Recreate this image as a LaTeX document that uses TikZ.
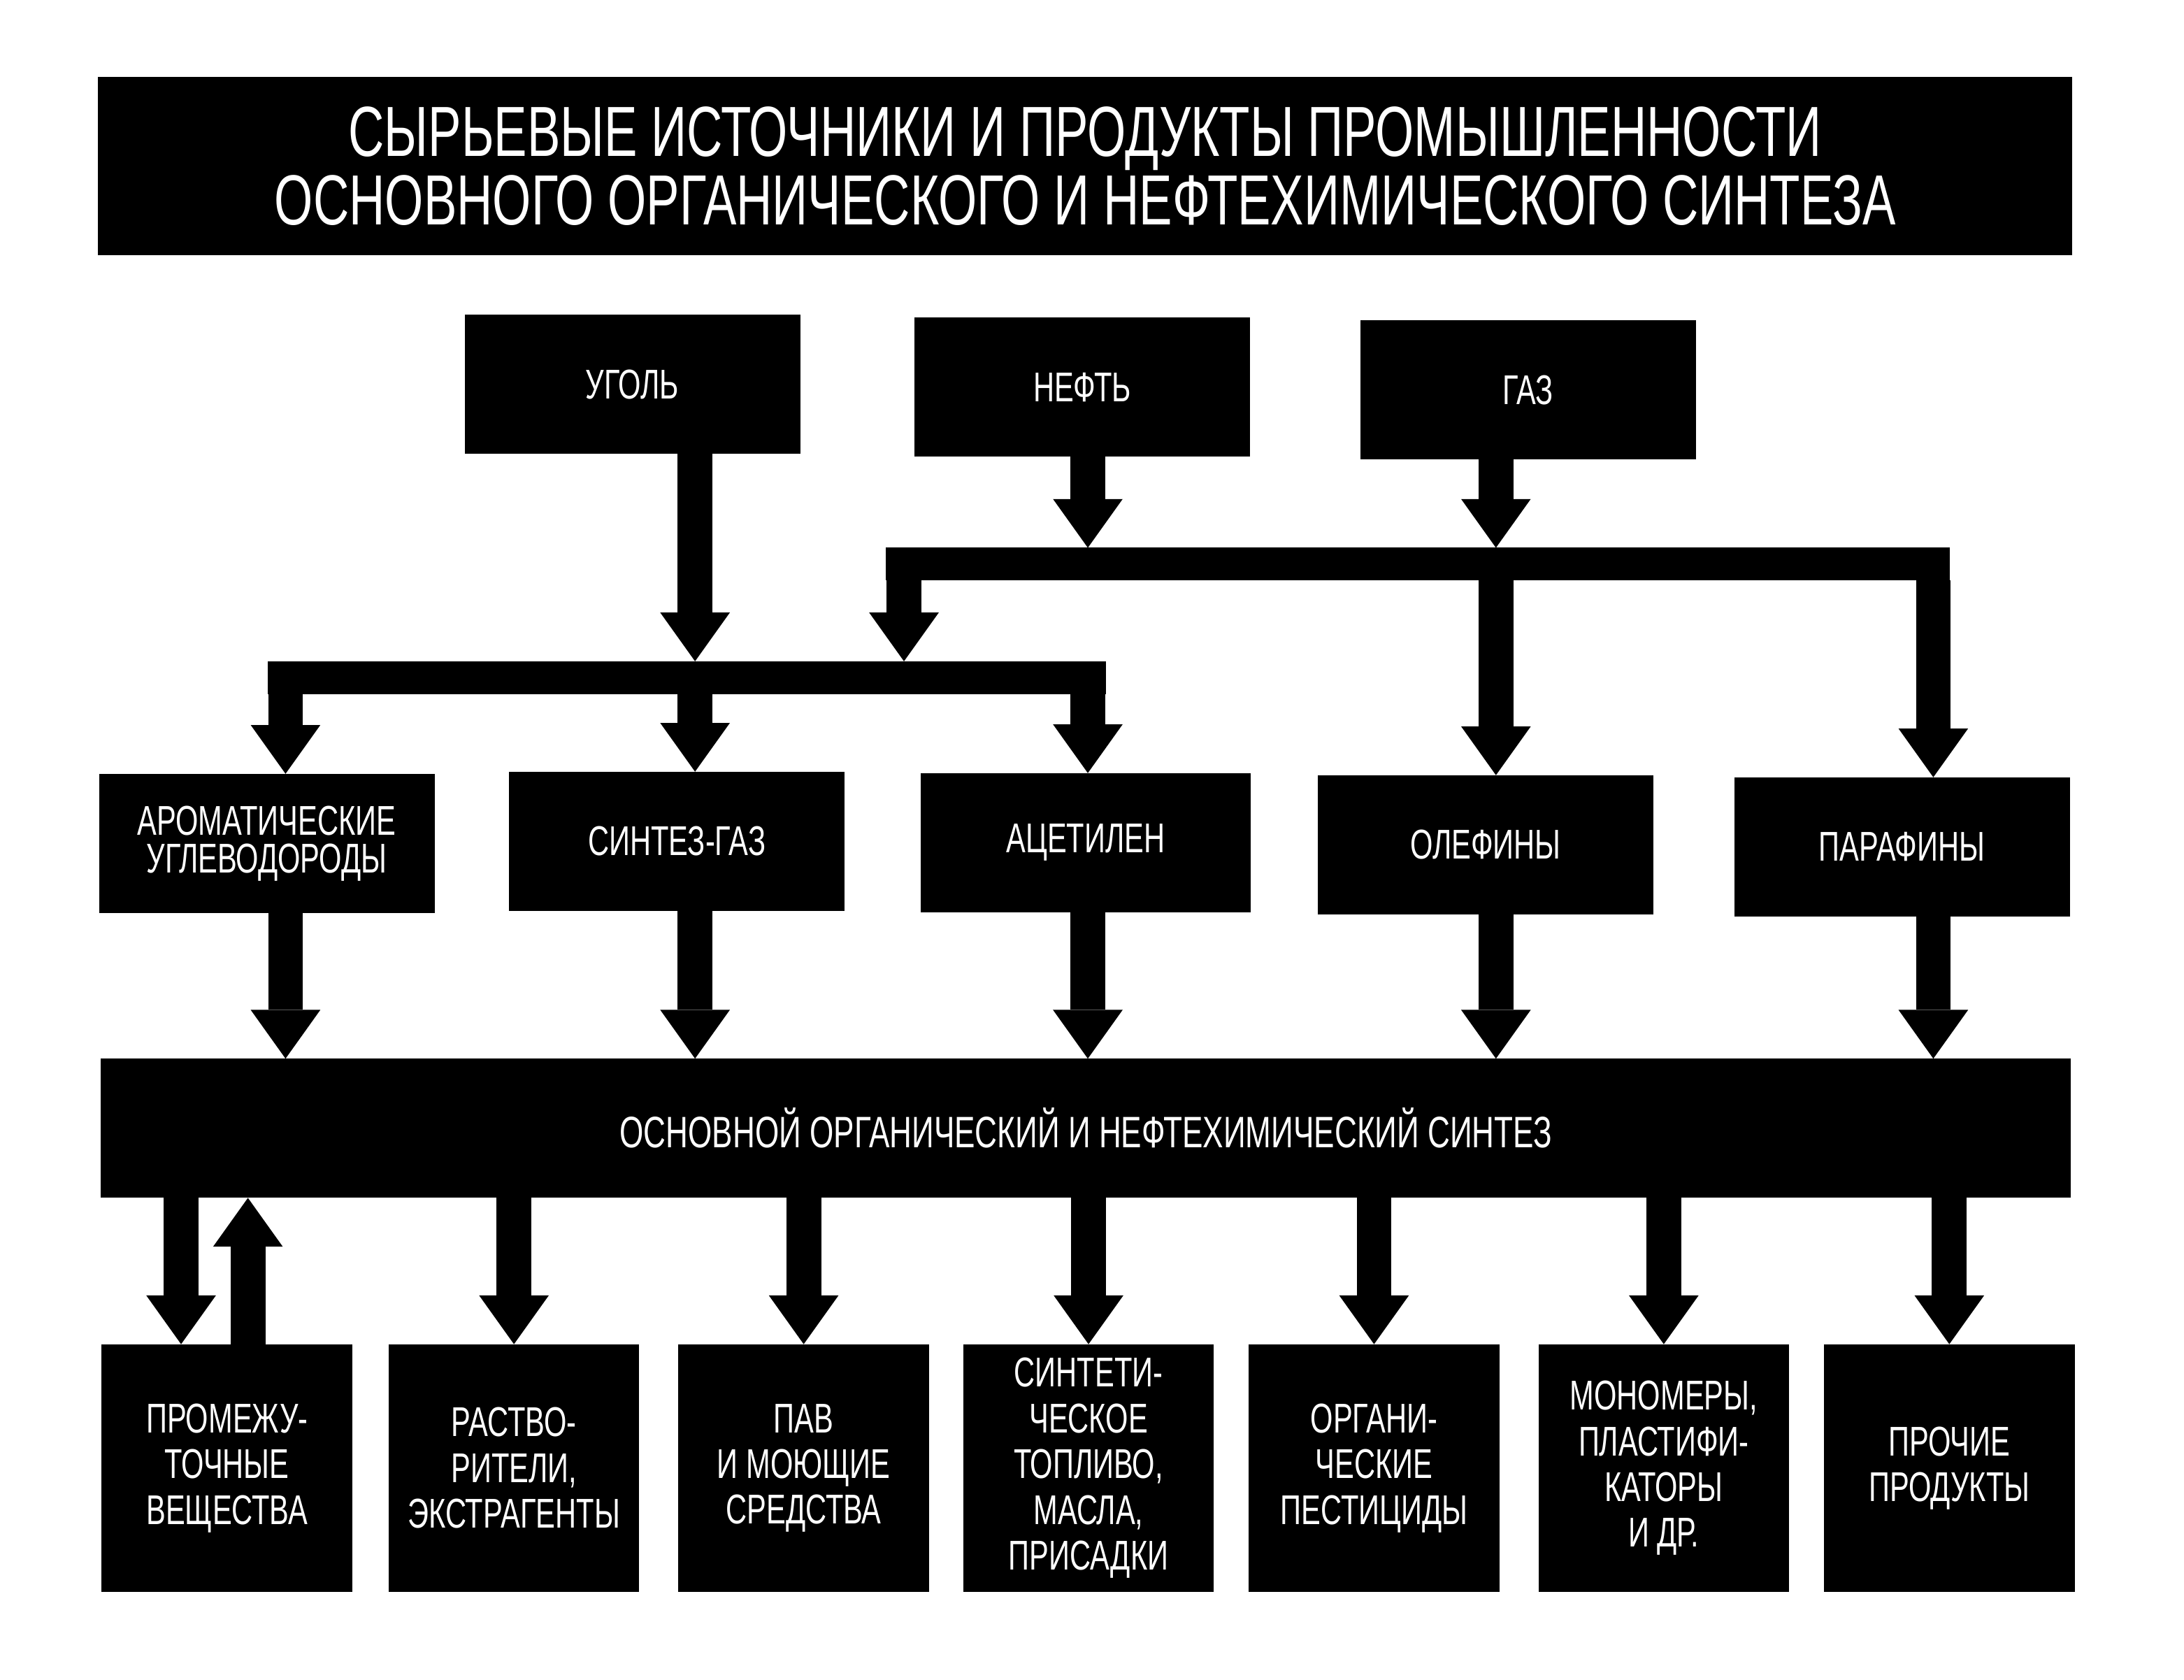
\documentclass[tikz,border=0pt]{standalone}
\usepackage{fontspec}
\setmainfont{Liberation Sans}[FakeStretch=0.7]
\usetikzlibrary{arrows.meta}

\begin{document}
\begin{tikzpicture}[x=0.02cm, y=-0.02cm,
    box/.style={fill=black, text=white, align=center, inner sep=0pt, outer sep=0pt,
      minimum width=4.82cm, minimum height=2cm, font=\fontsize{17}{15.5}\selectfont},
    prod/.style={box, minimum width=3.6cm, minimum height=3.56cm, font=\fontsize{17}{18.7}\selectfont},
    bar/.style={fill=black, inner sep=0pt, outer sep=0pt, minimum height=0.47cm},
    pipe/.style={line width=0.5cm, -{Triangle[width=1cm, length=0.7cm, line width=0pt]}}]
  \useasboundingbox (0,0) rectangle (1568,1206);

  \node[box, minimum width=28.36cm, minimum height=2.56cm, font=\fontsize{29}{28}\selectfont] (title) at (779,119)
    {СЫРЬЕВЫЕ ИСТОЧНИКИ И ПРОДУКТЫ ПРОМЫШЛЕННОСТИ\\ОСНОВНОГО ОРГАНИЧЕСКОГО И НЕФТЕХИМИЧЕСКОГО СИНТЕЗА};

  \node[box] (coal) at (454,276) {УГОЛЬ};
  \node[box] (oil) at (777,278) {НЕФТЬ};
  \node[box] (gas) at (1097,280) {ГАЗ};

  \node[bar, minimum width=15.28cm] (bar2) at (1018,405) {};
  \node[bar, minimum width=12.04cm] (bar1) at (493,486.5) {};

  \node[box] (arom) at (191.5,605.5) {АРОМАТИЧЕСКИЕ\\УГЛЕВОДОРОДЫ};
  \node[box] (syn) at (486,604) {СИНТЕЗ-ГАЗ};
  \node[box, minimum width=4.74cm] (acet) at (779.5,605) {АЦЕТИЛЕН};
  \node[box] (olef) at (1066.5,606.5) {ОЛЕФИНЫ};
  \node[box] (paraf) at (1365.5,608) {ПАРАФИНЫ};

  \node[box, minimum width=28.3cm, font=\fontsize{18}{18}\selectfont] (big) at (779.5,810)
    {ОСНОВНОЙ ОРГАНИЧЕСКИЙ И НЕФТЕХИМИЧЕСКИЙ СИНТЕЗ};

  \foreach \n/\x/\t in {inter/163/{ПРОМЕЖУ-\\ТОЧНЫЕ\\ВЕЩЕСТВА},
      solv/369/{РАСТВО-\\РИТЕЛИ,\\ЭКСТРАГЕНТЫ},
      surf/577/{ПАВ\\И МОЮЩИЕ\\СРЕДСТВА},
      fuel/781.5/{СИНТЕТИ-\\ЧЕСКОЕ\\ТОПЛИВО,\\МАСЛА,\\ПРИСАДКИ},
      pest/986.5/{ОРГАНИ-\\ЧЕСКИЕ\\ПЕСТИЦИДЫ},
      mono/1194.5/{МОНОМЕРЫ,\\ПЛАСТИФИ-\\КАТОРЫ\\И ДР.},
      misc/1399.5/{ПРОЧИЕ\\ПРОДУКТЫ}}
    \node[prod] (\n) at (\x,1054) {\t};

  \coordinate (cA) at (205,0);
  \coordinate (cB) at (499,0);
  \coordinate (cC) at (781,0);
  \coordinate (cD) at (1074,0);
  \coordinate (cE) at (1388,0);
  \coordinate (cL) at (649,0);
  \coordinate (iD) at ([xshift=-0.66cm]inter.north);
  \coordinate (iU) at ([xshift=0.3cm]inter.north);

  \draw[pipe] (coal.south -| cB) -- (bar1.north -| cB);
  \draw[pipe] (oil.south -| cC) -- (bar2.north -| cC);
  \draw[pipe] (gas.south -| cD) -- (bar2.north -| cD);
  \draw[pipe] (bar2.south -| cL) -- (bar1.north -| cL);
  \draw[pipe] (bar2.south -| cD) -- (olef.north -| cD);
  \draw[pipe] (bar2.south -| cE) -- (paraf.north -| cE);
  \foreach \n/\c in {arom/cA, syn/cB, acet/cC}
    \draw[pipe] (bar1.south -| \c) -- (\n.north -| \c);
  \foreach \n/\c in {arom/cA, syn/cB, acet/cC, olef/cD, paraf/cE}
    \draw[pipe] (\n.south -| \c) -- (big.north -| \c);
  \foreach \n in {solv, surf, fuel, pest, mono, misc}
    \draw[pipe] (big.south -| \n) -- (\n.north);
  \draw[pipe] (big.south -| iD) -- (iD);
  \draw[pipe] (iU) -- (big.south -| iU);
\end{tikzpicture}
\end{document}
